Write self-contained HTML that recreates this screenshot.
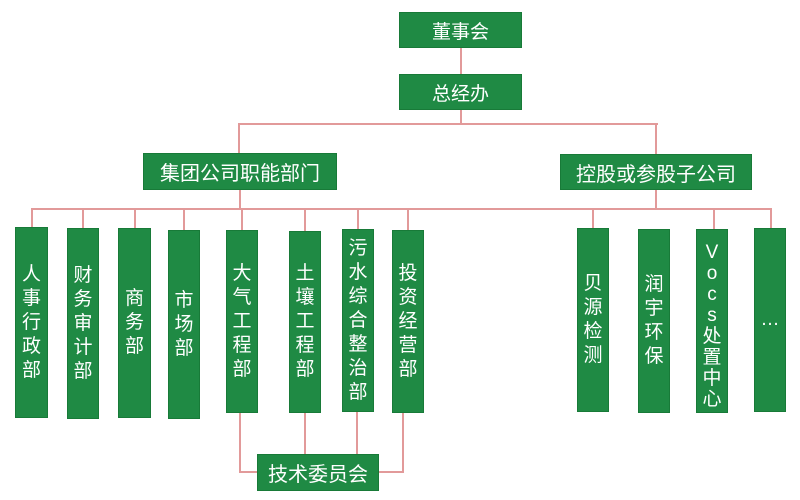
<!DOCTYPE html>
<html><head><meta charset="utf-8"><style>
body{margin:0;width:800px;height:500px;background:#fff;position:relative;overflow:hidden;font-family:"Liberation Sans","Noto Sans CJK SC",sans-serif}
.b{position:absolute;background:#1f8a44;border:1px solid #187a38;box-sizing:border-box;color:#fff;display:flex;align-items:center;justify-content:center;font-size:19px}
.v{flex-direction:column;line-height:24px;text-align:center}
.l{position:absolute;background:#e29a9a}
.h{height:2px}.w{width:2px}
</style></head><body>
<!-- lines -->
<div class="l w" style="left:460px;top:48px;height:26px"></div>
<div class="l w" style="left:460px;top:110px;height:14px"></div>
<div class="l h" style="left:238px;top:123px;width:420px"></div>
<div class="l w" style="left:238px;top:123px;height:31px"></div>
<div class="l w" style="left:655px;top:123px;height:31px"></div>
<div class="l w" style="left:239px;top:190px;height:20px"></div>
<div class="l w" style="left:655px;top:190px;height:20px"></div>
<div class="l h" style="left:31px;top:208px;width:741px"></div>
<div class="l w" style="left:31px;top:208px;height:20px"></div>
<div class="l w" style="left:82px;top:208px;height:20px"></div>
<div class="l w" style="left:134px;top:208px;height:20px"></div>
<div class="l w" style="left:183px;top:208px;height:22px"></div>
<div class="l w" style="left:241px;top:208px;height:22px"></div>
<div class="l w" style="left:304px;top:208px;height:23px"></div>
<div class="l w" style="left:357px;top:208px;height:22px"></div>
<div class="l w" style="left:407px;top:208px;height:22px"></div>
<div class="l w" style="left:592px;top:208px;height:22px"></div>
<div class="l w" style="left:713px;top:208px;height:22px"></div>
<div class="l w" style="left:770px;top:208px;height:22px"></div>
<div class="l w" style="left:239px;top:412px;height:61px"></div>
<div class="l h" style="left:239px;top:471px;width:20px"></div>
<div class="l w" style="left:304px;top:412px;height:43px"></div>
<div class="l w" style="left:356px;top:412px;height:43px"></div>
<div class="l w" style="left:402px;top:412px;height:61px"></div>
<div class="l h" style="left:378px;top:471px;width:26px"></div>
<!-- boxes -->
<div class="b" style="left:399px;top:12px;width:123px;height:36px">董事会</div>
<div class="b" style="left:399px;top:74px;width:123px;height:36px">总经办</div>
<div class="b" style="left:143px;top:153px;width:194px;height:37px;font-size:20px">集团公司职能部门</div>
<div class="b" style="left:560px;top:154px;width:192px;height:36px;font-size:20px">控股或参股子公司</div>
<div class="b v" style="left:15px;top:227px;width:33px;height:191px">人<br>事<br>行<br>政<br>部</div>
<div class="b v" style="left:67px;top:228px;width:32px;height:191px">财<br>务<br>审<br>计<br>部</div>
<div class="b v" style="left:118px;top:228px;width:33px;height:190px">商<br>务<br>部</div>
<div class="b v" style="left:168px;top:230px;width:32px;height:189px">市<br>场<br>部</div>
<div class="b v" style="left:226px;top:230px;width:32px;height:183px">大<br>气<br>工<br>程<br>部</div>
<div class="b v" style="left:289px;top:231px;width:32px;height:182px">土<br>壤<br>工<br>程<br>部</div>
<div class="b v" style="left:342px;top:229px;width:32px;height:183px">污<br>水<br>综<br>合<br>整<br>治<br>部</div>
<div class="b v" style="left:392px;top:230px;width:32px;height:183px">投<br>资<br>经<br>营<br>部</div>
<div class="b v" style="left:577px;top:228px;width:32px;height:184px">贝<br>源<br>检<br>测</div>
<div class="b v" style="left:638px;top:229px;width:32px;height:184px">润<br>宇<br>环<br>保</div>
<div class="b v" style="left:696px;top:229px;width:32px;height:184px;line-height:21px;justify-content:flex-end;padding-bottom:2px">V<br>o<br>c<br>s<br>处<br>置<br>中<br>心</div>
<div class="b v" style="left:754px;top:228px;width:32px;height:184px">…</div>
<div class="b" style="left:257px;top:454px;width:122px;height:37px;font-size:20px">技术委员会</div>
</body></html>
